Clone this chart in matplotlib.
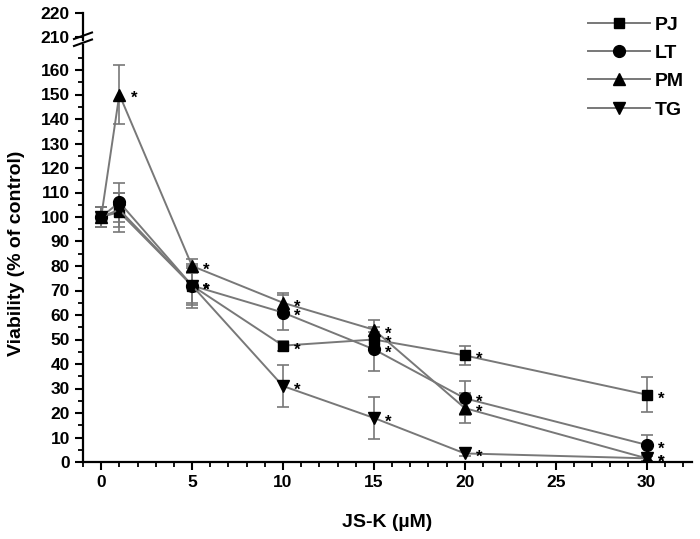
import matplotlib
matplotlib.use('Agg')
import matplotlib.pyplot as plt
from matplotlib.lines import Line2D
from matplotlib.ticker import FixedLocator, MultipleLocator

plt.rcParams['font.family'] = ['Liberation Sans', 'DejaVu Sans']
plt.rcParams['font.weight'] = 'bold'

# JS-K concentrations (uM)
doses = [0, 1, 5, 10, 15, 20, 30]

# viability (% of control) and error bars
pj = [100, 102, 72, 47.5, 50, 43.5, 27.5]
pj_err = [4, 8, 8, 2, 3, 4, 7]
lt = [100, 106, 72, 61, 46, 26, 7]
lt_err = [4, 8, 7, 7, 9, 7, 4]
pm = [100, 150, 80, 65, 54, 22, 1.5]
pm_err = [4, 12, 3, 4, 4, 6, 1]
tg = [100, 103, 72, 31, 18, 3.5, 1.5]
tg_err = [4, 7, 9, 8.5, 8.5, 1, 1]

# which doses carry a significance asterisk
pj_star = [5, 10, 15, 20, 30]
lt_star = [5, 10, 15, 20, 30]
pm_star = [1, 5, 10, 15, 20, 30]
tg_star = [5, 10, 15, 20, 30]

series = [
    ('PJ', pj, pj_err, pj_star, 's', 7.5),
    ('LT', lt, lt_err, lt_star, 'o', 8.5),
    ('PM', pm, pm_err, pm_star, '^', 9),
    ('TG', tg, tg_err, tg_star, 'v', 9),
]

line_gray = '#787878'

W, H = 700, 539
fig = plt.figure(figsize=(W / 100, H / 100), dpi=100)

# lower part of the broken y axis (0-170) and upper part (209-220)
left, right = 83, 692
ax = fig.add_axes([left / W, 1 - 462 / H, (right - left) / W, (462 - 45.5) / H])
ax_top = fig.add_axes([left / W, 1 - 40 / H, (right - left) / W, 27 / H], sharex=ax)

handles = []
for name, vals, errs, stars, mk, ms in series:
    ax.errorbar(doses, vals, yerr=errs, fmt='none', ecolor=line_gray,
                elinewidth=1.2, capsize=4, capthick=1.2, zorder=2)
    ln, = ax.plot(doses, vals, color=line_gray, lw=1.4, marker=mk, ms=ms,
                  mfc='black', mec='black', zorder=3)
    handles.append(ln)
    for d in stars:
        v = vals[doses.index(d)]
        ax.annotate('*', (d, v), xytext=(8, -3), textcoords='offset points',
                    ha='left', va='center', fontsize=12, fontweight='bold')

ax.set_xlim(-1, 32.5)
ax.set_ylim(0, 170)
ax.xaxis.set_major_locator(MultipleLocator(5))
ax.xaxis.set_minor_locator(MultipleLocator(1))
ax.yaxis.set_major_locator(FixedLocator(range(0, 170, 10)))
ax.yaxis.set_minor_locator(FixedLocator(range(5, 170, 10)))

for a in (ax, ax_top):
    a.spines['top'].set_visible(False)
    a.spines['right'].set_visible(False)
    a.spines['left'].set_linewidth(1.6)
    a.tick_params(which='major', length=6, width=1.5, labelsize=12.5)
    a.tick_params(which='minor', length=3.5, width=1.3)
    for lab in a.get_yticklabels() + a.get_xticklabels():
        lab.set_fontweight('bold')
ax.spines['bottom'].set_linewidth(1.6)

ax_top.set_ylim(208.9, 220)
ax_top.set_yticks([210, 220])
ax_top.spines['bottom'].set_visible(False)
ax_top.xaxis.set_visible(False)
ax_top.patch.set_visible(False)

# break marks on the y axis
for y0 in (39, 46):
    fig.add_artist(Line2D([(left - 9) / W, (left + 9) / W],
                          [1 - y0 / H, 1 - (y0 - 6.5) / H],
                          color='black', lw=1.5, transform=fig.transFigure))

ax.set_ylabel('Viability (% of control)', fontsize=14, fontweight='bold')
ax.yaxis.set_label_coords(-0.095, 0.5)
ax.set_xlabel('JS-K (\u00b5M)', fontsize=14, fontweight='bold', labelpad=17)

leg = fig.legend(handles, [s[0] for s in series], loc='upper left',
                 bbox_to_anchor=(588 / W, 1 - 16 / H), frameon=False,
                 handlelength=3.2, handletextpad=0.25, labelspacing=0.55,
                 borderaxespad=0, borderpad=0,
                 prop={'size': 14, 'weight': 'bold'})

fig.savefig('out.png', dpi=100)
